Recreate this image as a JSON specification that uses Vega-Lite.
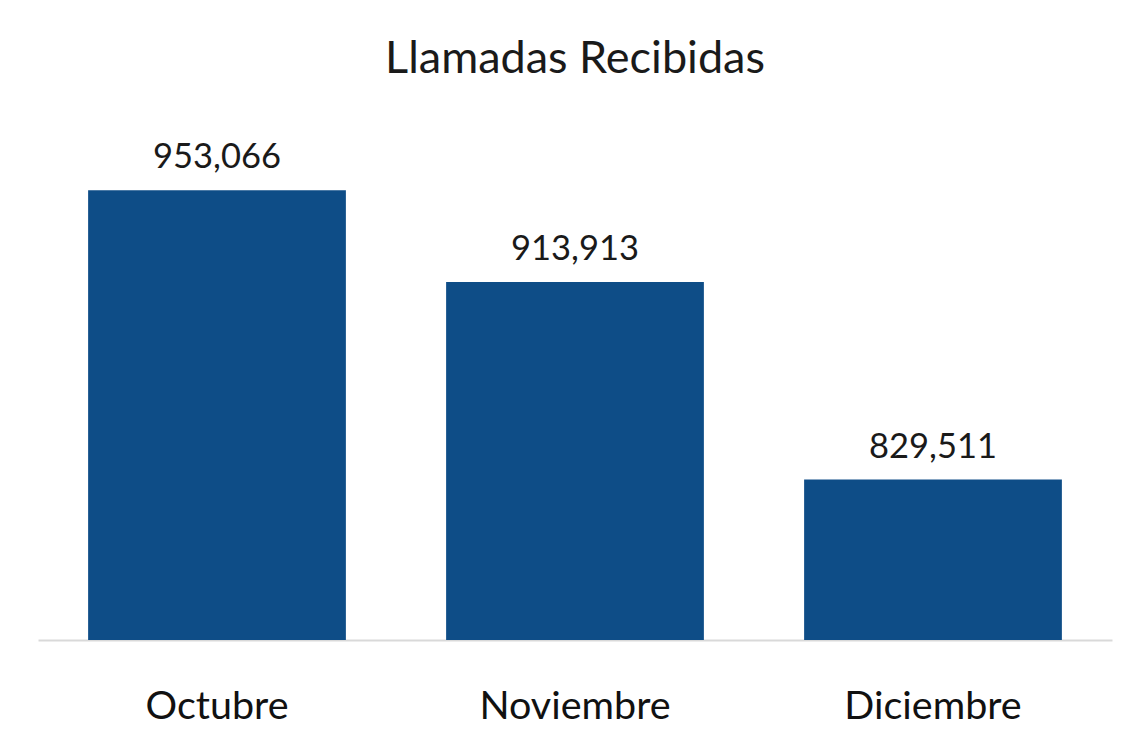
{
  "$schema": "https://vega.github.io/schema/vega-lite/v6.json",
  "autosize": "none",
  "width": 1074,
  "height": 540,
  "padding": {"left": 38, "top": 100, "right": 18, "bottom": 103},
  "background": "white",
  "title": {
    "text": "Llamadas Recibidas",
    "font": "Lato",
    "fontSize": 45,
    "fontWeight": "normal",
    "color": "#1a1a1a",
    "anchor": "middle",
    "baseline": "alphabetic",
    "offset": -18
  },
  "data": {
    "values": [
      {"mes": "Octubre", "llamadas": 953066},
      {"mes": "Noviembre", "llamadas": 913913},
      {"mes": "Diciembre", "llamadas": 829511}
    ]
  },
  "encoding": {
    "x": {
      "field": "mes",
      "type": "nominal",
      "sort": null,
      "scale": {"paddingInner": 0.28, "paddingOuter": 0.14},
      "axis": {
        "title": null,
        "labelAngle": 0,
        "labelFont": "Lato",
        "labelFontSize": 39.5,
        "labelColor": "#111111",
        "labelBaseline": "alphabetic",
        "labelPadding": 78,
        "labelLimit": 0,
        "ticks": false,
        "domainColor": "#d9d9d9",
        "domainWidth": 2,
        "grid": false
      }
    },
    "y": {
      "field": "llamadas",
      "type": "quantitative",
      "scale": {"domain": [761000, 991580], "zero": false, "nice": false, "clamp": true},
      "axis": null
    }
  },
  "layer": [
    {"mark": {"type": "bar", "color": "#0E4D87", "clip": true}},
    {
      "mark": {
        "type": "text",
        "font": "Lato",
        "fontSize": 34.5,
        "color": "#1a1a1a",
        "baseline": "alphabetic",
        "dy": -22
      },
      "encoding": {
        "text": {"field": "llamadas", "type": "quantitative", "format": ",d"}
      }
    }
  ],
  "config": {"view": {"stroke": null}}
}
